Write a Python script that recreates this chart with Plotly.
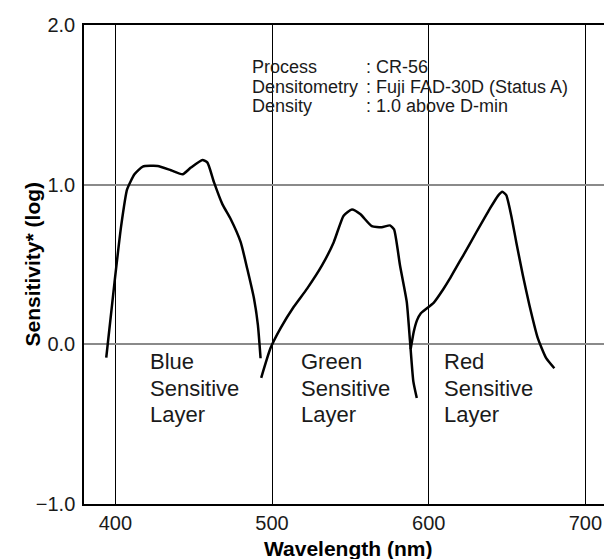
import plotly.graph_objects as go

# ---- data ----
blue_wl = [394.2, 399.5, 403.7, 407.5, 412.2, 417.5, 427.0, 435.5, 443.0, 448.2,
           455.6, 458.8, 463.0, 468.3, 473.6, 480.0, 484.2, 488.5, 491.0, 492.7]
blue_val = [-0.083, 0.39, 0.74, 0.97, 1.065, 1.113, 1.117, 1.09, 1.065, 1.107,
            1.155, 1.138, 1.014, 0.878, 0.785, 0.64, 0.473, 0.287, 0.12, -0.087]

green_wl = [493.1, 499.0, 505.4, 513.9, 522.4, 531.9, 539.4, 545.7, 551.0, 556.3,
            563.7, 570.0, 575.3, 577.9, 581.7, 586.0, 588.1, 590.2, 592.4]
green_val = [-0.21, -0.025, 0.1, 0.235, 0.349, 0.494, 0.64, 0.806, 0.845, 0.816,
             0.74, 0.733, 0.745, 0.72, 0.494, 0.266, 0.017, -0.232, -0.336]

red_wl = [588.5, 590.5, 592.5, 595.0, 598.7, 603.0, 609.3, 613.5, 617.7, 622.0,
          630.4, 638.9, 644.2, 647.0, 649.5, 652.7, 655.9, 660.1, 664.3, 669.7,
          675.0, 680.2]
red_val = [-0.03, 0.08, 0.15, 0.195, 0.225, 0.258, 0.345, 0.411, 0.484, 0.556,
           0.702, 0.847, 0.93, 0.955, 0.935, 0.806, 0.64, 0.432, 0.245, 0.037,
           -0.087, -0.15]

x_ticks = [400, 500, 600, 700]
x_tick_labels = ["400", "500", "600", "700"]
y_ticks = [-1, 0, 1, 2]
y_tick_labels = ["\u22121.0", "0.0", "1.0", "2.0"]

x_title = "Wavelength (nm)"
y_title = "Sensitivity* (log)"

info_keys = ["Process", "Densitometry", "Density"]
info_vals = [": CR-56", ": Fuji FAD-30D (Status A)", ": 1.0 above D-min"]
layer_labels = [["Blue", "Sensitive", "Layer"],
                ["Green", "Sensitive", "Layer"],
                ["Red", "Sensitive", "Layer"]]

FONT = "Liberation Sans"
TXT = "#1a1a1a"

fig = go.Figure()
for wl, val in [(blue_wl, blue_val), (green_wl, green_val), (red_wl, red_val)]:
    fig.add_trace(go.Scatter(x=wl, y=val, mode="lines",
                             line=dict(color="black", width=2.5, shape="spline", smoothing=0.5),
                             showlegend=False, hoverinfo="skip"))

annotations = []
info_x_key, info_x_val = 485.9, 559.0
info_y = [1.738, 1.614, 1.495]
for k, v, yy in zip(info_keys, info_vals, info_y):
    annotations.append(dict(x=info_x_key, y=yy, text=k, xanchor="left", yanchor="middle",
                            showarrow=False, font=dict(family=FONT, size=18, color=TXT)))
    annotations.append(dict(x=info_x_val, y=yy, text=v, xanchor="left", yanchor="middle",
                            showarrow=False, font=dict(family=FONT, size=18, color=TXT)))

label_x = [420.7, 517.1, 608.8]
label_y = [-0.106, -0.274, -0.442]
for lx, lines in zip(label_x, layer_labels):
    for ln, ly in zip(lines, label_y):
        annotations.append(dict(x=lx, y=ly, text=ln, xanchor="left", yanchor="middle",
                                showarrow=False, font=dict(family=FONT, size=22, color=TXT)))

# axis titles
annotations.append(dict(xref="paper", yref="paper", x=0.5, y=0, yshift=-44,
                        xanchor="center", yanchor="middle", showarrow=False,
                        text="<b>" + x_title + "</b>",
                        font=dict(family=FONT, size=21, color="black")))
annotations.append(dict(xref="paper", yref="paper", x=0, y=0.5, xshift=-52,
                        xanchor="center", yanchor="middle", showarrow=False, textangle=-90,
                        text="<b>" + y_title + "</b>",
                        font=dict(family=FONT, size=21, color="black")))

fig.update_layout(
    width=612, height=559,
    margin=dict(l=76, r=6, t=15, b=63),
    paper_bgcolor="white", plot_bgcolor="white",
    annotations=annotations,
    xaxis=dict(range=[380, 717], tickvals=x_ticks, ticktext=x_tick_labels,
               showgrid=True, gridcolor="black", gridwidth=1,
               showline=True, linecolor="black", linewidth=1.5, mirror=True,
               ticks="", zeroline=False,
               tickfont=dict(family=FONT, size=20, color=TXT)),
    yaxis=dict(range=[-1, 2], tickvals=y_ticks, ticktext=y_tick_labels,
               showgrid=True, gridcolor="#8a8a8a", gridwidth=1.5,
               showline=True, linecolor="black", linewidth=1.5, mirror=True,
               ticks="", zeroline=False, ticklabelstandoff=3,
               tickfont=dict(family=FONT, size=20, color=TXT)),
)

fig.write_html("out.html")
